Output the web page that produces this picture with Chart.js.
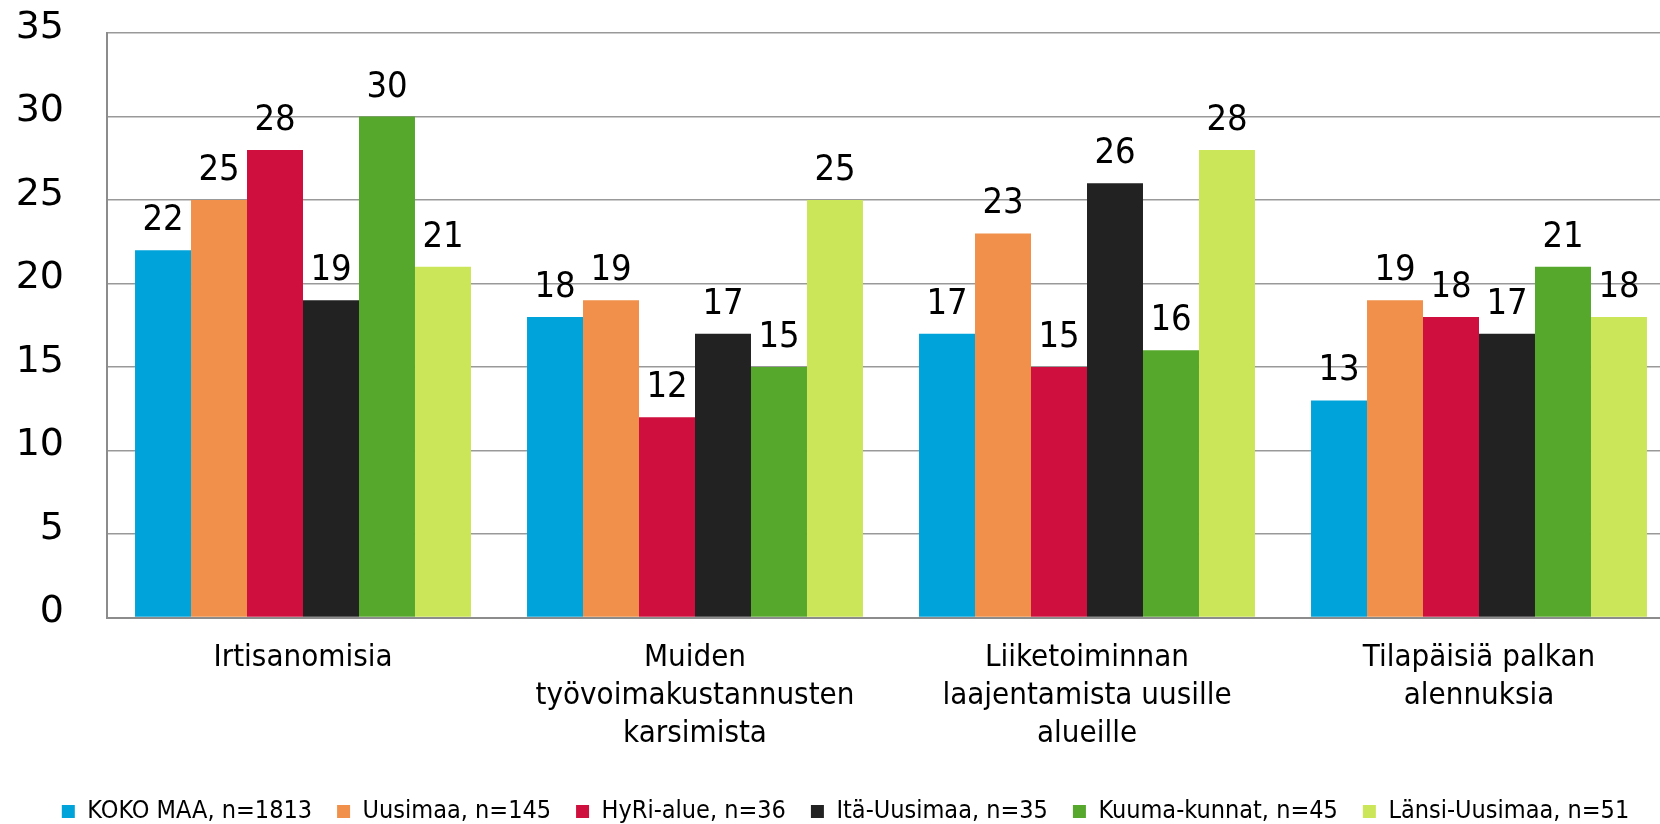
<!DOCTYPE html>
<html>
<head>
<meta charset="utf-8">
<script src="https://cdn.jsdelivr.net/npm/chart.js@4.4.1/dist/chart.umd.min.js"></script>
<style>
html,body{margin:0;padding:0;background:#fff;overflow:hidden;width:1660px;height:824px;}
#wrap{position:absolute;left:0;top:0;width:1696px;height:834px;}
</style>
</head>
<body>
<div id="wrap"><canvas id="c" width="1696" height="834"></canvas></div>
<script>
const categories = [
  "Irtisanomisia",
  ["Muiden", "työvoimakustannusten", "karsimista"],
  ["Liiketoiminnan", "laajentamista uusille", "alueille"],
  ["Tilapäisiä palkan", "alennuksia"]
];
const seriesNames = ["KOKO MAA, n=1813", "Uusimaa, n=145", "HyRi-alue, n=36", "Itä-Uusimaa, n=35", "Kuuma-kunnat, n=45", "Länsi-Uusimaa, n=51"];
const kokoMaa = [22, 18, 17, 13];
const uusimaa = [25, 19, 23, 19];
const hyri = [28, 12, 15, 18];
const itaUusimaa = [19, 17, 26, 17];
const kuuma = [30, 15, 16, 21];
const lansiUusimaa = [21, 25, 28, 18];
const yTicks = [0, 5, 10, 15, 20, 25, 30, 35];
const colors = ["#00A3DA", "#F0904A", "#CF0F3D", "#222222", "#56A82C", "#CCE65A"];

const seriesValues = [kokoMaa, uusimaa, hyri, itaUusimaa, kuuma, lansiUusimaa];

const valueLabels = {
  id: 'valueLabels',
  afterDatasetsDraw(chart) {
    const ctx = chart.ctx;
    ctx.save();
    ctx.font = '36px "DejaVu Sans Condensed"';
    ctx.fillStyle = '#000';
    ctx.textAlign = 'center';
    ctx.textBaseline = 'alphabetic';
    chart.data.datasets.forEach((ds, di) => {
      const meta = chart.getDatasetMeta(di);
      meta.data.forEach((bar, i) => {
        ctx.fillText(String(ds.data[i]), bar.x, bar.y - 20);
      });
    });
    ctx.restore();
  }
};

new Chart(document.getElementById('c'), {
  type: 'bar',
  data: {
    labels: categories,
    datasets: seriesNames.map((n, i) => ({
      label: n,
      data: seriesValues[i],
      backgroundColor: colors[i],
      borderWidth: 0,
      barPercentage: 1.0,
      categoryPercentage: 0.857
    }))
  },
  options: {
    responsive: false,
    animation: false,
    devicePixelRatio: 1,
    layout: { padding: { left: 16, right: 21, top: 33, bottom: 0 } },
    plugins: {
      tooltip: { enabled: false },
      legend: {
        position: 'bottom',
        labels: {
          boxWidth: 13,
          boxHeight: 13,
          padding: 25,
          color: '#000',
          font: { family: '"DejaVu Sans Condensed"', size: 25 }
        }
      }
    },
    scales: {
      x: {
        grid: { display: false, drawTicks: false },
        border: { display: true, color: '#8c8c8c', width: 2 },
        ticks: {
          color: '#000',
          padding: 21,
          maxRotation: 0,
          autoSkip: false,
          font: { family: '"DejaVu Sans Condensed"', size: 31, lineHeight: 1.23 }
        }
      },
      y: {
        min: 0,
        max: 35,
        afterBuildTicks(scale) { scale.ticks = yTicks.map(v => ({ value: v })); },
        afterFit(scale) { scale.width = 91; scale.paddingTop = 0; scale.paddingBottom = 0; },
        grid: { color: '#999999', lineWidth: 1.5, drawTicks: false },
        border: { display: true, color: '#8c8c8c', width: 2 },
        ticks: {
          color: '#000',
          padding: 43,
          labelOffset: -5,
          font: { family: '"DejaVu Sans"', size: 38 }
        }
      }
    }
  },
  plugins: [valueLabels]
});
</script>
</body>
</html>
